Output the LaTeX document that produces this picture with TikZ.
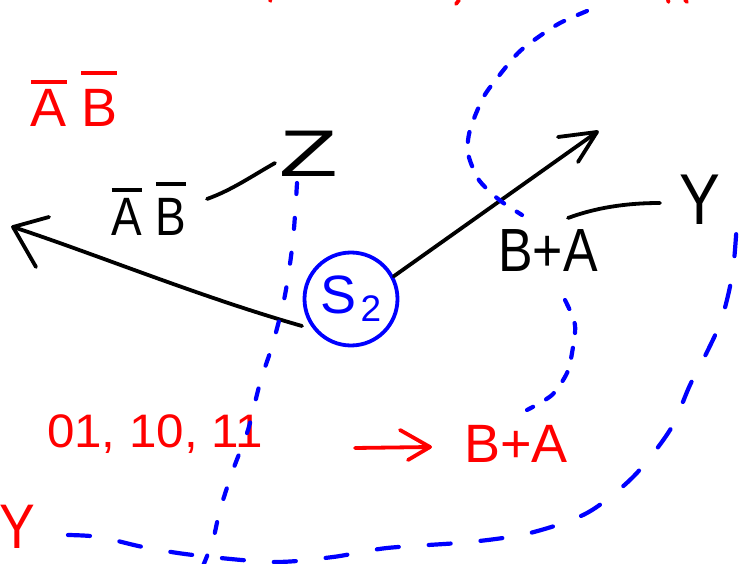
\documentclass[tikz,border=0pt]{standalone}
\usepackage{fontspec}
\setmainfont{Liberation Sans}
\newcommand\hwf[1]{\fontsize{#1}{#1}\selectfont}
\newcommand\barred[2][8pt]{\vbox{\hrule height 3.5pt\kern#1\hbox{#2}}}
\begin{document}
\begin{tikzpicture}[x=1pt,y=-1pt,
  ink/.style={line width=3.8pt, line cap=round, line join=round},
  blk/.style={ink, black},
  redink/.style={ink, red},
  blu/.style={line width=4.2pt, line cap=round, blue, dash pattern=on 10pt off 15pt},
  lbl/.style={inner sep=0pt, anchor=base}]
\useasboundingbox (0,0) rectangle (740,564);

% labels
\node[lbl, red, font=\hwf{54}] (abtop) at (74,127) {\barred[6pt]{A}\hspace{14pt}\barred[15pt]{B}};
\node[lbl, font=\hwf{54}, xscale=0.85] (ab) at (149,236) {\barred[7pt]{A}\hspace{16pt}\barred[13pt]{B}};
\node[lbl, font=\hwf{66}, xscale=1.45] (z) at (309,177) {Z};
\node[lbl, font=\hwf{72}, xscale=0.85] (y) at (700,225) {Y};
\node[lbl, font=\hwf{61}, xscale=0.85] (ba) at (548,272) {B+A};
\node[circle, draw=blue, line width=3.8pt, minimum size=93pt, inner sep=0pt, text=blue, font=\hwf{54}] (s2) at (351,299) {S\kern4pt\raisebox{-8pt}{\hwf{37}2}};
\node[lbl, red, font=\hwf{47}, xscale=1.05] (codes) at (155,447) {01, 10, 11};
\node[lbl, red, font=\hwf{54}] (bared) at (516,462) {B+A};
\node[lbl, red, font=\hwf{63}, xscale=0.85] (yred) at (17,548) {Y};

% black arrows
\coordinate (lstart) at (302,326);
\coordinate (ltip) at (13,227);
\draw[blk] (lstart) .. controls (200,297) and (90,252) .. (ltip);
\draw[blk] (49,217) -- (ltip) -- (36,267);
\coordinate (rtip) at (597,132);
\draw[blk] (s2.28) -- (rtip);
\draw[blk] (558,137) -- (rtip) -- (578,162);

% connectors to Z and Y
\coordinate (zc1) at (207,199);
\coordinate (zc2) at (275,163);
\draw[blk] (zc1) .. controls (232,190) and (252,176) .. (zc2);
\coordinate (yc1) at (568,218);
\coordinate (yc2) at (660,203);
\draw[blk] (yc1) .. controls (595,208) and (625,203) .. (yc2);

% red arrow
\coordinate (ra1) at (355,448);
\coordinate (ra2) at (430,447);
\draw[redink] (ra1) -- (ra2);
\draw[redink] (400,430) -- (ra2) -- (408,460);

% red fragments at top edge
\draw[redink] (270,0) -- (270.5,1);
\draw[redink] (456,4) -- (459,0);
\draw[redink] (668,0) -- (668.5,2);
\draw[redink] (685,0) -- (687,2);

% blue dashed curves
\draw[blu, dash pattern=on 11pt off 24pt] plot[smooth] coordinates {(297,183) (293,240) (285,295) (273,343) (260,383) (248,430) (233,470) (220,510) (213,540) (203,566)};
\draw[blu, dash pattern=on 22pt off 30pt] plot[smooth] coordinates {(68,535) (100,537) (143,547) (193,555) (273,562) (333,557) (387,548) (470,542) (530,533) (587,513) (633,477) (670,430) (690,385) (708,350) (722,318) (733,270) (738,205)};
\draw[blu] plot[smooth] coordinates {(587,11) (560,23) (537,38) (518,53) (498,77) (483,98) (470,130) (468,153) (477,177) (488,190) (502,202) (522,215)};
\draw[blu] plot[smooth] coordinates {(565,300) (575,325) (572,353) (567,373) (552,395) (527,410)};
\end{tikzpicture}
\end{document}
